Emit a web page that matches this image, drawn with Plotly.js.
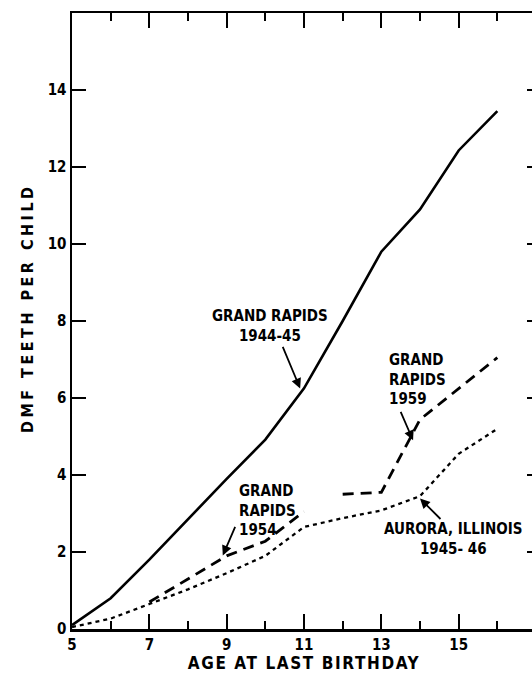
<!DOCTYPE html>
<html>
<head>
<meta charset="utf-8">
<script src="https://cdn.plot.ly/plotly-3.0.1.min.js"></script>
<style>
html, body { margin: 0; padding: 0; overflow: hidden; background: #fff; }
.xtitle { letter-spacing: 1.6px; }
.ytitle { letter-spacing: 3.5px; }
</style>
</head>
<body>
<div id="chart"></div>
<script>
// Ages (years at last birthday)
const agesAll = [5, 6, 7, 8, 9, 10, 11, 12, 13, 14, 15, 16];
// Grand Rapids 1944-45 (solid)
const gr1944 = [0.1, 0.8, 1.8, 2.85, 3.9, 4.92, 6.25, 8.0, 9.8, 10.9, 12.43, 13.45];
// Grand Rapids 1954 (dashed)
const ages1954 = [7, 8, 9, 10, 11];
const gr1954 = [0.7, 1.3, 1.9, 2.28, 3.05];
// Grand Rapids 1959 (dashed)
const ages1959 = [12, 13, 14, 15, 16];
const gr1959 = [3.5, 3.55, 5.44, 6.25, 7.05];
// Aurora, Illinois 1945-46 (dotted)
const aurora = [0.05, 0.27, 0.65, 1.03, 1.45, 1.9, 2.65, 2.88, 3.08, 3.45, 4.55, 5.2];

const xTickVals = [5, 7, 9, 11, 13, 15];
const xTickText = ["5", "7", "9", "11", "13", "15"];
const xMinorVals = [6, 8, 10, 12, 14, 16];
const yTickVals = [0, 2, 4, 6, 8, 10, 12, 14];
const yTickText = ["0", "2", "4", "6", "8", "10", "12", "14"];

const FONT = "DejaVu Sans Condensed, DejaVu Sans, sans-serif";
const b = s => "<b>" + s + "</b>";

const traces = [
  {x: agesAll, y: gr1944, mode: "lines", line: {color: "#000", width: 2.6}, name: "Grand Rapids 1944-45"},
  {x: ages1954, y: gr1954, mode: "lines", line: {color: "#000", width: 2.8, dash: "11px,7px"}, name: "Grand Rapids 1954"},
  {x: ages1959, y: gr1959, mode: "lines", line: {color: "#000", width: 2.8, dash: "11px,7px"}, name: "Grand Rapids 1959"},
  {x: agesAll, y: aurora, mode: "lines", line: {color: "#000", width: 2.3, dash: "4px,4px"}, name: "Aurora, Illinois 1945-46"},
  {x: [], y: [], xaxis: "x2", yaxis: "y2", showlegend: false}
];

const txtFont = {family: FONT, size: 15, color: "#000"};

const layout = {
  width: 540,
  height: 677,
  margin: {l: 72, r: 4, t: 13, b: 48},
  showlegend: false,
  xaxis: {
    range: [5, 17],
    tickmode: "array",
    tickvals: xTickVals,
    ticktext: xTickText.map(b),
    ticks: "inside",
    ticklen: 15,
    tickwidth: 2,
    tickcolor: "#000",
    minor: {tickmode: "array", tickvals: xMinorVals, ticks: "inside", ticklen: 8, tickwidth: 2, tickcolor: "#000"},
    showline: true,
    linewidth: 2.5,
    linecolor: "#000",
    mirror: true,
    showgrid: false,
    zeroline: false,
    tickfont: {family: FONT, size: 15, color: "#000"},
    title: {text: b("AGE AT LAST BIRTHDAY"), font: {family: FONT, size: 17, color: "#000"}, standoff: 4}
  },
  xaxis2: {
    overlaying: "x", side: "top", anchor: "y", range: [5, 17],
    tickmode: "array", tickvals: xTickVals, ticks: "inside", ticklen: 15, tickwidth: 2, tickcolor: "#000",
    minor: {tickmode: "array", tickvals: xMinorVals, ticks: "inside", ticklen: 8, tickwidth: 2, tickcolor: "#000"},
    showticklabels: false, showline: false, showgrid: false, zeroline: false
  },
  yaxis: {
    range: [0, 16],
    tickmode: "array",
    tickvals: yTickVals,
    ticktext: yTickText.map(b),
    ticks: "inside",
    ticklen: 14,
    tickwidth: 2,
    tickcolor: "#000",
    showline: true,
    linewidth: 2.5,
    linecolor: "#000",
    showgrid: false,
    zeroline: false,
    tickfont: {family: FONT, size: 15, color: "#000"},
    title: {text: b("\u00a0\u00a0\u00a0DMF TEETH PER CHILD"), font: {family: FONT, size: 16, color: "#000"}, standoff: 10}
  },
  yaxis2: {
    overlaying: "y", side: "right", anchor: "x", range: [0, 16],
    tickmode: "array", tickvals: yTickVals, ticks: "inside", ticklen: 9, tickwidth: 2, tickcolor: "#000",
    showticklabels: false, showline: false, showgrid: false, zeroline: false
  },
  annotations: [
    {x: 10.12, y: 7.88, xref: "x", yref: "y", text: b("GRAND RAPIDS<br>1944-45"), showarrow: false, align: "center", font: txtFont},
    {x: 10.9, y: 6.25, xref: "x", yref: "y", text: "", showarrow: true, ax: -18, ay: -43, arrowhead: 2, arrowsize: 1.1, arrowwidth: 1.8, arrowcolor: "#000"},
    {x: 9.27, y: 3.08, xref: "x", yref: "y", xanchor: "left", text: b("GRAND<br>RAPIDS<br>1954"), showarrow: false, align: "left", font: txtFont},
    {x: 8.9, y: 1.91, xref: "x", yref: "y", text: "", showarrow: true, ax: 13, ay: -30, arrowhead: 2, arrowsize: 1.1, arrowwidth: 1.8, arrowcolor: "#000"},
    {x: 13.15, y: 6.48, xref: "x", yref: "y", xanchor: "left", text: b("GRAND<br>RAPIDS<br>1959"), showarrow: false, align: "left", font: txtFont},
    {x: 13.82, y: 4.9, xref: "x", yref: "y", text: "", showarrow: true, ax: -13, ay: -30, arrowhead: 2, arrowsize: 1.1, arrowwidth: 1.8, arrowcolor: "#000"},
    {x: 14.85, y: 2.35, xref: "x", yref: "y", text: b("AURORA, ILLINOIS<br>1945- 46"), showarrow: false, align: "center", font: txtFont},
    {x: 14.0, y: 3.39, xref: "x", yref: "y", text: "", showarrow: true, ax: 22, ay: 22, arrowhead: 2, arrowsize: 1.1, arrowwidth: 1.8, arrowcolor: "#000"}
  ]
};

Plotly.newPlot("chart", traces, layout, {staticPlot: true});
</script>
</body>
</html>
